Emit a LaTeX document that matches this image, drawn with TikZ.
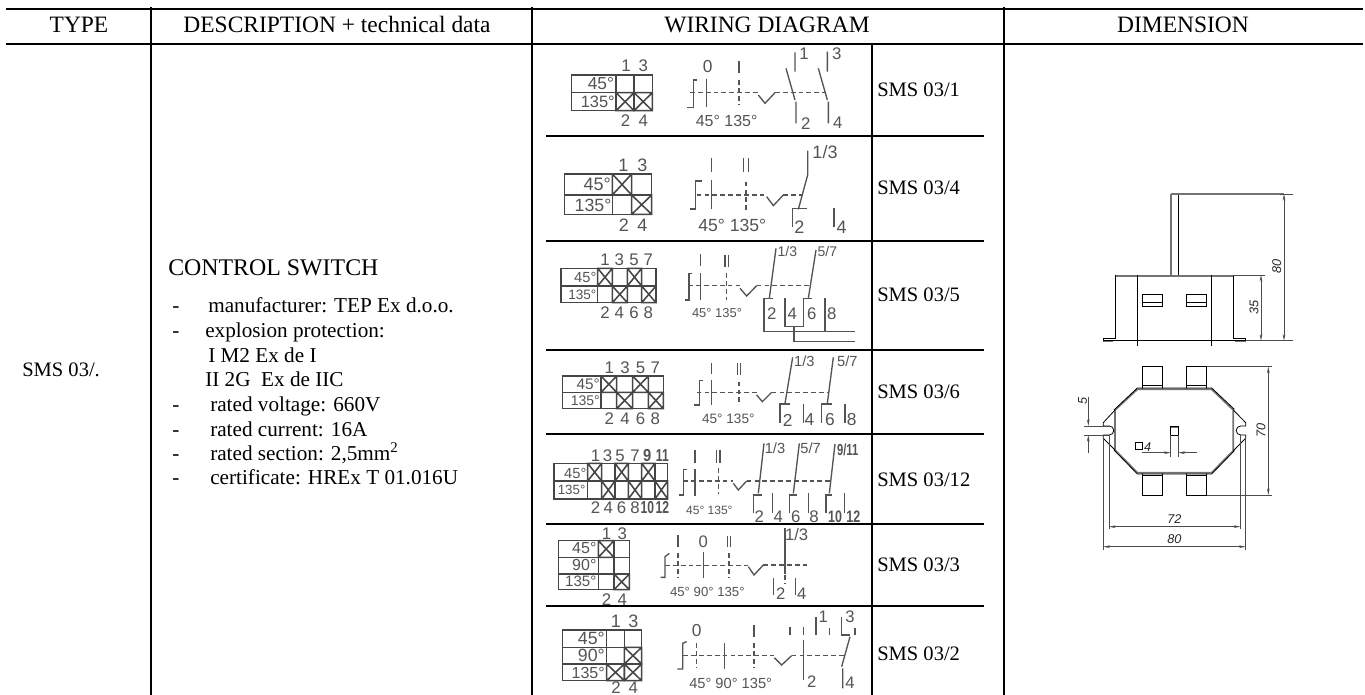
\documentclass[tikz,border=0pt]{standalone}
\usepackage{fontspec}
\usepackage{graphicx}
\setmainfont{Liberation Serif}
\newfontfamily\dgf{Liberation Sans}
\usetikzlibrary{arrows.meta}
\definecolor{wgray}{gray}{0.33}
\definecolor{dgray}{gray}{0.27}
\newcounter{lb}
\tikzset{
  rule/.style={line width=1.5pt,black},
  tx/.style={inner sep=0,text=black},
  hd/.style={tx,anchor=base,font=\fontsize{17.6}{20}\selectfont},
  smsl/.style={tx,anchor=base west,font=\fontsize{15.4}{18}\selectfont},
  bl/.style={tx,anchor=base west,font=\fontsize{15.9}{18}\selectfont},
  wl/.style={inner sep=0,text=wgray,font=\dgf\fontsize{#1}{#1}\selectfont},
  wl/.default=12.6,
  tb/.style={draw=dgray,line width=1.15pt},
  sw/.style={draw=wgray,line width=1pt},
  sd/.style={draw=wgray,line width=1pt,dash pattern=on 3.6pt off 2.3pt},
  ol/.style={draw=black,line width=.6pt},
  gl/.style={draw=black!55,line width=1.3pt},
  dm/.style={draw=black!70,line width=.45pt},
  dimarrow/.style={dm,-{Stealth[length=5pt,width=2pt]}},
  dimboth/.style={dm,{Stealth[length=5pt,width=2pt]}-{Stealth[length=5pt,width=2pt]}},
  dt/.style={inner sep=0,text=black!85,font=\dgf\itshape\fontsize{9.5}{10}\selectfont},
  zoomA/.style={shift={(#1)},x=.25pt,y=-.25pt},
}
\newcommand\lab[3][wl]{\stepcounter{lb}\node[#1] (lb\arabic{lb}) at (#2) {#3};}
\newcommand\xc[4]{\draw[tb] (#1,#2) rectangle (#3,#4) (#1,#2)--(#3,#4) (#1,#4)--(#3,#2);}
\begin{document}
\begin{tikzpicture}[x=.75pt,y=-.75pt]
\useasboundingbox (0,0) rectangle (1365,695);
\fill[white] (0,0) rectangle (1365,695);
% table rules
\draw[rule] (6,9)--(1363,9) (6,44)--(1363,44);
\draw[rule] (150.5,7)--(150.5,695) (531.5,7)--(531.5,695) (1004,7)--(1004,695);
\draw[rule] (872,44)--(872,695);
\foreach \yy in {136,241,350,434,524,606}{\draw[rule] (546,\yy)--(984,\yy);}
% header
\node[hd] (h1) at (79,33) {TYPE};
\node[hd] (h2) at (337,33) {DESCRIPTION + technical data};
\node[hd] (h3) at (767,33) {WIRING DIAGRAM};
\node[hd] (h4) at (1183,33) {DIMENSION};
% left
\node[smsl] (t1) at (22,377) {SMS 03/.};
\node[tx,anchor=base west,font=\fontsize{17.9}{20}\selectfont] (d0) at (168,276) {CONTROL SWITCH};
\node[bl] (d1) at (208,313) {manufacturer: TEP Ex d.o.o.};
\node[bl] (d2) at (205,337.5) {explosion protection:};
\node[bl] (d3) at (208,362.5) {I M2 Ex de I};
\node[bl] (d4) at (205,387) {II 2G\ \ Ex de IIC};
\node[bl] (d5) at (210,411.5) {rated voltage: 660V};
\node[bl] (d6) at (210,436) {rated current: 16A};
\node[bl] (d7) at (210,460.5) {rated section: 2,5mm\textsuperscript{2}};
\node[bl] (d8) at (210,484.5) {certificate: HREx T 01.016U};
\foreach \yy/\nn in {313/a,337.5/b,411.5/c,436/d,460.5/e,484.5/f}{\node[bl] (dash\nn) at (172,\yy) {-};}
% SMS labels
\node[smsl] (s1) at (877,97) {SMS 03/1};
\node[smsl] (s2) at (877,195) {SMS 03/4};
\node[smsl] (s3) at (877,301.5) {SMS 03/5};
\node[smsl] (s4) at (877,399) {SMS 03/6};
\node[smsl] (s5) at (877,486.5) {SMS 03/12};
\node[smsl] (s6) at (877,571) {SMS 03/3};
\node[smsl] (s7) at (877,660) {SMS 03/2};

% ---- ROW 1
\begin{scope}[zoomA={530,20}]
\draw[tb] (125,165) rectangle (367,272) (125,218)--(367,218) (258,165)--(258,272) (312,165)--(312,272);
\xc{258}{218}{312}{272}\xc{312}{218}{367}{272}
\lab{288,137}{1}\lab{340,137}{3}\lab{287,303}{2}\lab{340,303}{4}
\lab[wl=13,anchor=east]{253,192}{45°}\lab[wl=12.3,anchor=east]{255,247}{135°}
\draw[sw] (500,180)--(490,180)--(490,262)--(472,262);
\draw[sw] (530,178)--(530,262);
\lab[wl=13]{533,140}{0}
\draw[sw] (627,122)--(627,160);
\draw[sd] (627,180)--(627,255);
\draw[sd] (480,218)--(685,218);
\draw[sw] (685,225)--(705,250)--(735,218);
\draw[sd] (735,218)--(885,218);
\lab[wl=12]{590,303}{45° 135°}
\end{scope}
\begin{scope}[zoomA={740,20}]
\draw[sw] (165,97)--(165,155) (138,145)--(165,240) (168,245)--(168,310);
\draw[sw] (262,95)--(262,155) (235,145)--(262,240) (265,245)--(265,310);
\lab{192,100}{1}\lab{290,100}{3}\lab{197,310}{2}\lab{293,308}{4}
\end{scope}

% ---- ROW 2
\begin{scope}[zoomA={530,185}]
\draw[tb] (103,-33) rectangle (365,88) (103,30)--(365,30) (247,-33)--(247,88) (305,-33)--(305,88);
\xc{247}{-33}{305}{30}\xc{305}{30}{365}{88}
\lab[wl=13.5]{280,-60}{1}\lab[wl=13.5]{337,-60}{3}\lab[wl=13.5]{282,122}{2}\lab[wl=13.5]{337,122}{4}
\lab[wl=13.5,anchor=east]{243,-3}{45°}\lab[wl=13.3,anchor=east]{245,60}{135°}
\draw[sw] (515,-12)--(497,-12)--(497,72)--(480,72);
\draw[sw] (545,-15)--(545,72) (545,-81)--(545,-40);
\draw[sw] (641,-81)--(641,-38) (656,-81)--(656,-38);
\draw[sd] (648,-10)--(648,75);
\draw[sd] (500,30)--(710,30);
\draw[sw] (710,35)--(730,62)--(760,30);
\draw[sd] (760,30)--(815,30);
\lab[wl=13.2]{607,122}{45° 135°}
\end{scope}
\begin{scope}[zoomA={740,20}]
\draw[sw] (203,392)--(203,465)--(175,568);
\draw[sw] (200,565)--(157,565)--(157,622) (282,565)--(282,622);
\lab[wl=13.5]{178,622}{2}\lab[wl=13.5]{305,622}{4}\lab[wl=13.5]{255,395}{1/3}
\end{scope}

% ---- ROW 3
\begin{scope}[zoomA={530,185}]
\draw[tb] (93,250) rectangle (378,353) (93,303)--(378,303)
  (203,250)--(203,353) (247,250)--(247,353) (292,250)--(292,353) (335,250)--(335,353);
\xc{203}{250}{247}{303}\xc{292}{250}{335}{303}\xc{247}{303}{292}{353}\xc{335}{303}{378}{353}
\lab{225,225}{1}\lab{268,225}{3}\lab{312,225}{5}\lab{355,225}{7}
\lab{225,382}{2}\lab{268,382}{4}\lab{312,382}{6}\lab{355,382}{8}
\lab[wl=11,anchor=east]{200,277}{45°}\lab[wl=10.2,anchor=east]{200,328}{135°}
\draw[sw] (487,265)--(477,265)--(477,345)--(465,345);
\draw[sw] (512,265)--(512,345) (512,207)--(512,243);
\draw[sw] (585,210)--(585,245) (595,210)--(595,245);
\draw[sd] (590,265)--(590,345);
\draw[sd] (475,302)--(630,302);
\draw[sw] (630,310)--(650,333)--(680,302);
\draw[sd] (680,302)--(845,302);
\lab[wl=9.7]{561,385}{45° 135°}
\end{scope}
\begin{scope}[zoomA={740,260}]
\draw[sw] (108,-35)--(88,115) (228,-30)--(205,115);
\draw[sw] (100,115)--(72,115)--(72,215)--(345,215);
\draw[sw] (135,115)--(135,200)--(190,200)--(190,115)--(215,115);
\draw[sw] (162,200)--(162,245)--(345,245);
\draw[sw] (255,115)--(255,215);
\lab{95,160}{2}\lab{157,160}{4}\lab{215,160}{6}\lab{275,160}{8}
\lab[wl=10.5]{142,-27}{1/3}\lab[wl=10.5]{262,-27}{5/7}
\end{scope}

% ---- ROW 4
\begin{scope}[zoomA={530,350}]
\draw[tb] (97,78) rectangle (400,176) (97,127)--(400,127)
 (213,78)--(213,176) (260,78)--(260,176) (308,78)--(308,176) (355,78)--(355,176);
\xc{213}{78}{260}{127}\xc{308}{78}{355}{127}\xc{260}{127}{308}{176}\xc{355}{127}{400}{176}
\lab{238,52}{1}\lab{285,52}{3}\lab{332,52}{5}\lab{376,52}{7}
\lab{238,205}{2}\lab{285,205}{4}\lab{332,205}{6}\lab{376,205}{8}
\lab[wl=11.5,anchor=east]{210,102}{45°}\lab[wl=10.5,anchor=east]{210,152}{135°}
\draw[sw] (518,92)--(508,92)--(508,165)--(493,165);
\draw[sw] (545,90)--(545,165) (545,38)--(545,72);
\draw[sw] (622,40)--(622,75) (632,40)--(632,75);
\draw[sd] (627,95)--(627,165);
\draw[sd] (500,127)--(680,127);
\draw[sw] (680,135)--(697,155)--(725,127);
\draw[sd] (725,127)--(891,127);
\lab[wl=10.2]{595,207}{45° 135°}
\end{scope}
\begin{scope}[zoomA={740,260}]
\draw[sw] (158,292)--(135,430) (280,292)--(262,430);
\draw[sw] (150,432)--(120,432)--(120,490) (190,432)--(190,490);
\draw[sw] (275,432)--(245,432)--(245,490) (315,432)--(315,490);
\lab[wl=13]{143,480}{2}\lab[wl=13]{208,478}{4}\lab[wl=13]{270,480}{6}\lab[wl=13]{335,478}{8}
\lab[wl=11]{193,305}{1/3}\lab[wl=11]{322,305}{5/7}
\end{scope}

% ---- ROW 5
\begin{scope}[zoomA={530,350}]
\draw[tb] (72,340) rectangle (413,447) (72,393)--(413,393)
 (173,340)--(173,447) (215,340)--(215,447) (255,340)--(255,447) (295,340)--(295,447) (335,340)--(335,447) (375,340)--(375,447);
\xc{173}{340}{215}{393}\xc{255}{340}{295}{393}\xc{335}{340}{375}{393}
\xc{215}{393}{255}{447}\xc{295}{393}{335}{447}\xc{375}{393}{413}{447}
\lab{197,318}{1}\lab{233,318}{3}\lab{270,318}{5}\lab{315,318}{7}
\lab[wl=13]{352,318}{\scalebox{.85}[1]{\bfseries 9}}\lab[wl=13]{397,318}{\scalebox{.7}[1]{\bfseries 11}}
\lab{197,473}{2}\lab{235,473}{4}\lab{275,473}{6}\lab{315,473}{8}
\lab[wl=13]{352,473}{\scalebox{.7}[1]{\bfseries 10}}\lab[wl=13]{397,473}{\scalebox{.7}[1]{\bfseries 12}}
\lab[wl=11,anchor=east]{170,370}{45°}\lab[wl=10,anchor=east]{167,420}{135°}
\draw[sw] (472,358)--(460,358)--(460,435)--(448,435);
\draw[sw] (495,358)--(495,437) (495,300)--(495,340);
\draw[sw] (560,300)--(560,340) (570,300)--(570,340);
\draw[sd] (565,355)--(565,432);
\draw[sd] (460,393)--(610,393);
\draw[sw] (610,400)--(625,420)--(650,393);
\draw[sd] (650,393)--(905,393);
\lab[wl=9]{538,482}{45° 135°}
\end{scope}
\begin{scope}[zoomA={740,260}]
\draw[sw] (72,550)--(55,700) (178,550)--(160,700) (285,552)--(268,700);
\draw[sw] (65,705)--(40,705)--(40,760) (172,705)--(148,705)--(148,760) (275,705)--(258,705)--(258,760);
\draw[sw] (97,700)--(97,760) (205,700)--(205,760) (313,700)--(313,760);
\lab{58,770}{2}\lab{115,770}{4}\lab{167,770}{6}\lab{222,770}{8}
\lab[wl=12.5]{285,770}{\scalebox{.75}[1]{\bfseries 10}}\lab[wl=12.5]{340,770}{\scalebox{.75}[1]{\bfseries 12}}
\lab[wl=11]{105,565}{1/3}\lab[wl=11]{212,565}{5/7}\lab[wl=12]{323,570}{\scalebox{.7}[1]{\bfseries 9/11}}
\end{scope}

% ---- ROW 6
\begin{scope}[zoomA={530,515}]
\draw[tb] (85,77) rectangle (298,224) (85,127)--(298,127) (85,177)--(298,177) (205,77)--(205,224) (252,77)--(252,224);
\xc{205}{77}{252}{127}\xc{252}{177}{298}{224}
\lab{230,55}{1}\lab{277,55}{3}\lab{230,253}{2}\lab{277,253}{4}
\lab[wl=12,anchor=east]{200,100}{45°}\lab[wl=12,anchor=east]{200,150}{90°}\lab[wl=11.3,anchor=east]{200,200}{135°}
\draw[sw] (418,115)--(405,125)--(405,187)--(392,187);
\draw[sd] (405,152)--(655,152);
\draw[sw] (655,155)--(672,180)--(700,150);
\draw[sd] (700,150)--(835,150);
\draw[sw] (444,60)--(444,95) (592,62)--(592,95) (602,62)--(602,95);
\draw[sd] (444,115)--(444,190) (597,115)--(597,190);
\lab[wl=12.5]{520,80}{0}
\draw[sw] (521,112)--(521,190);
\lab[wl=9.9]{532,230}{45° 90° 135°}
\draw[sw] (765,40)--(765,178) (730,190)--(730,240) (797,190)--(797,240);
\draw[sd] (765,180)--(765,205);
\lab[wl=12.5]{800,60}{1/3}\lab[wl=12.5]{752,235}{2}\lab[wl=12.5]{815,235}{4}
\end{scope}

% ---- ROW 7
\begin{scope}[zoomA={530,515}]
\draw[tb] (97,345) rectangle (335,497) (97,397)--(335,397) (97,447)--(335,447) (230,345)--(230,497) (283,345)--(283,497);
\xc{283}{397}{335}{447}\xc{230}{447}{283}{497}\xc{283}{447}{335}{497}
\lab[wl=13.5]{258,320}{1}\lab[wl=13.5]{310,320}{3}\lab[wl=12.6]{258,518}{2}\lab[wl=12.6]{310,518}{4}
\lab[wl=13.3,anchor=east]{225,370}{45°}\lab[wl=13.3,anchor=east]{225,420}{90°}\lab[wl=12,anchor=east]{225,473}{135°}
\draw[sw] (470,380)--(458,385)--(458,462)--(442,462);
\draw[sd] (460,422)--(733,422);
\draw[sw] (733,428)--(755,450)--(785,422);
\draw[sd] (785,422)--(945,422);
\lab[wl=13]{500,347}{0}
\draw[sd] (500,385)--(500,460);
\draw[sw] (583,385)--(583,462);
\draw[sw] (672,330)--(672,365);
\draw[sd] (672,385)--(672,460);
\lab[wl=11]{602,505}{45° 90° 135°}
\end{scope}
\begin{scope}[zoomA={740,500}]
\draw[sw] (150,380)--(150,405) (190,380)--(190,405) (228,350)--(228,405) (268,385)--(268,405);
\draw[sw] (345,385)--(345,405) (305,350)--(305,405)--(330,405);
\draw[sw] (190,420)--(190,540);
\draw[sw] (330,410)--(305,500) (308,505)--(308,565);
\lab[wl=12.5]{250,350}{1}\lab[wl=12.5]{330,350}{3}\lab[wl=12.5]{215,545}{2}\lab[wl=12.5]{330,548}{4}
\end{scope}

% ---- DIMENSION: elevation
\begin{scope}[zoomA={1080,170}]
\draw[gl] (272,72)--(272,315) (272,72)--(295,72);
\draw[ol] (295,72)--(295,315);
\draw[gl] (295,72)--(612,72);
\draw[ol] (107,315)--(460,315);
\draw[gl] (107,318)--(460,318);
\draw[ol] (107,315)--(107,505)--(70,505)--(70,515);
\draw[ol] (460,315)--(460,505)--(497,505)--(497,515);
\draw[ol] (172,315)--(172,527) (395,315)--(395,527);
\draw[ol] (187,373) rectangle (248,408) (187,397)--(248,397);
\draw[ol] (320,373) rectangle (380,408) (320,397)--(380,397);
\draw[dm] (460,315)--(555,315);
\draw[dimboth] (543,315)--(543,512);
\node[dt,rotate=90] (d35) at (522,413) {35};
\node[dt,rotate=90] (d80a) at (590,290) {80};
\draw[dimboth] (612,72)--(612,512);
\draw[dm] (497,512)--(640,512);
\draw[dm] (600,72)--(640,72);
\end{scope}
% ---- DIMENSION: plan
\begin{scope}[zoomA={1080,330}]
\draw[gl] (70,32)--(100,32) (465,32)--(497,32);
\draw[ol] (70,32)--(497,32);
% tabs
\draw[ol] (187,178)--(187,110)--(248,110)--(248,178) (187,165)--(248,165);
\draw[ol] (320,178)--(320,110)--(380,110)--(380,178) (320,165)--(380,165);
\draw[ol] (187,428)--(187,495)--(248,495)--(248,428) (187,437)--(248,437);
\draw[ol] (320,428)--(320,495)--(380,495)--(380,428) (320,437)--(380,437);
% octagon
\draw[gl] (172,178)--(395,178)--(460,240)--(460,362)--(395,428)--(172,428)--(105,360)--(105,240)--cycle;
\draw[ol] (172,174)--(395,174)--(463,238) (172,174)--(102,240) (102,360)--(172,432)--(395,432)--(463,362);
% ears
\draw[ol] (105,240)--(70,278)--(70,288)--(88,288) arc[start angle=-90,end angle=90,radius=13.5]--(70,315)--(70,325)--(105,360);
\draw[ol] (460,240)--(497,278)--(497,288)--(482,288) arc[start angle=-90,end angle=-270,radius=13.5]--(497,315)--(497,325)--(460,362);
% centre
\draw[gl] (272,290)--(295,290);
\draw[ol] (272,290) rectangle (295,315);
\draw[dm] (272,315)--(272,380) (295,315)--(295,380);
\draw[dimarrow] (185,368)--(272,368);
\draw[dimarrow] (350,368)--(295,368);
\draw[ol] (167,338) rectangle (188,357);
\node[dt] (d4) at (203,350) {4};
% 70
\draw[dm] (380,110)--(577,110) (380,495)--(577,495);
\draw[dimboth] (565,110)--(565,495);
\node[dt,rotate=90] (d70) at (543,300) {70};
% 5
\draw[dm] (12,288)--(88,288) (12,315)--(88,315);
\draw[dimarrow] (25,200)--(25,288);
\draw[dimarrow] (25,370)--(25,315);
\node[dt,rotate=90] (d5) at (8,213) {5};
% 72 / 80
\draw[dm] (87,315)--(87,598) (481,315)--(481,598);
\draw[dimboth] (87,590)--(481,590);
\node[dt] (d72) at (283,568) {72};
\draw[dm] (70,325)--(70,660) (497,320)--(497,660);
\draw[dimboth] (70,650)--(497,650);
\node[dt] (d80) at (283,628) {80};
\end{scope}
\end{tikzpicture}
\end{document}
